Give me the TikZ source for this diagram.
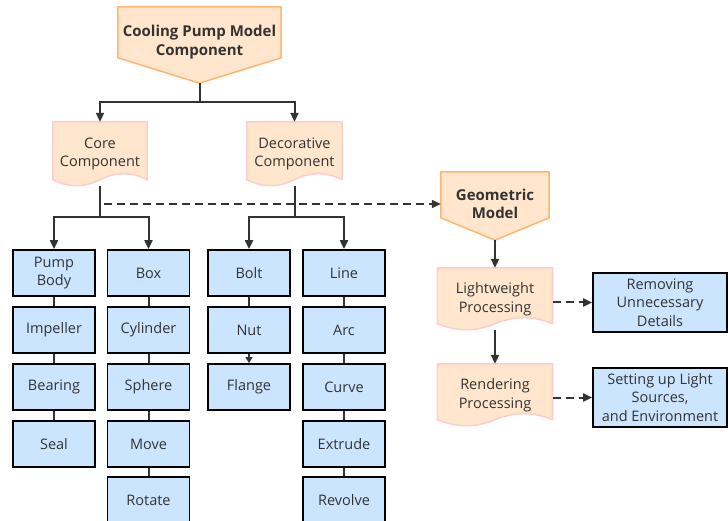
\documentclass[tikz,border=0pt]{standalone}
\usepackage{fontspec}
\setmainfont{Open Sans}
\usetikzlibrary{arrows.meta,calc}
\pgfdeclarelayer{background}
\pgfdeclarelayer{paper}
\pgfsetlayers{paper,background,main}
\definecolor{peach}{HTML}{FFE6CC}
\definecolor{orangeline}{HTML}{FFB570}
\definecolor{pinkline}{HTML}{FFCCCC}
\definecolor{skyfill}{HTML}{CCE5FF}
\definecolor{ink}{HTML}{333333}
\tikzset{
  every node/.style={font=\fontsize{14.5}{18.5}\selectfont, text=ink, align=center, inner sep=0pt},
  head/.style={font=\fontsize{15}{18.5}\selectfont\bfseries},
  docnode/.style={minimum height=64pt},
  part/.style={draw=black, line width=1.8pt, fill=skyfill, minimum width=82pt, minimum height=46pt},
  conn/.style={draw=ink, line width=2pt, -{Triangle[length=9pt,width=8pt]}},
  shortconn/.style={draw=ink, line width=2pt, -{Triangle[length=6pt,width=7pt]}},
  link/.style={draw=ink, line width=2pt},
  dasharrow/.style={conn, dash pattern=on 8pt off 5pt}
}
\newcommand{\pentagonbg}[3]{%
  \begin{pgfonlayer}{background}
    \draw[fill=peach, draw=orangeline, line width=1.5pt, line join=round]
      (#1.north west) -- (#1.north east) -- ([yshift=-#2pt]#1.north east)
      -- ([yshift=-#3pt]#1.south) -- ([yshift=-#2pt]#1.north west) -- cycle;
  \end{pgfonlayer}}
\newcommand{\docbg}[1]{%
  \begin{pgfonlayer}{background}
    \draw[fill=peach, draw=pinkline, line width=1.5pt, line join=round]
      (#1.north west) -- (#1.north east) -- ([yshift=6.5pt]#1.south east)
      .. controls ($(#1.south east)!0.1667!(#1.south west)+(0,14.5pt)$)
      and ($(#1.south east)!0.3333!(#1.south west)+(0,14.5pt)$) .. ([yshift=6.5pt]#1.south)
      .. controls ($(#1.south east)!0.6667!(#1.south west)+(0,-1.5pt)$)
      and ($(#1.south east)!0.8333!(#1.south west)+(0,-1.5pt)$) .. ([yshift=6.5pt]#1.south west)
      -- cycle;
  \end{pgfonlayer}}

\begin{document}
\begin{tikzpicture}[x=1pt,y=-1pt]
  \begin{pgfonlayer}{paper}
    \fill[white] (0,0) rectangle (728,521);
  \end{pgfonlayer}
  \useasboundingbox (0,0) rectangle (728,521);

  \node[head, minimum width=163pt, minimum height=70pt] (top) at (199.5,42) {Cooling Pump Model\\Component};
  \pentagonbg{top}{51}{6}
  \node[docnode, minimum width=94pt] (core) at (100,154) {Core\\Component};
  \docbg{core}
  \node[docnode, minimum width=95pt] (deco) at (294.5,154) {Decorative\\Component};
  \docbg{deco}
  \node[head, minimum width=108pt, minimum height=64pt] (geo) at (495,204) {Geometric\\Model};
  \pentagonbg{geo}{46}{4}
  \node[docnode, minimum width=115pt, minimum height=62pt] (light) at (495,299) {Lightweight\\Processing};
  \docbg{light}
  \node[docnode, minimum width=115pt, minimum height=62pt] (render) at (495,395) {Rendering\\Processing};
  \docbg{render}
  \node[part, minimum width=134pt, minimum height=59pt] (removing) at (660,302.5) {Removing\\Unnecessary\\Details};
  \node[part, minimum width=134pt, minimum height=59pt] (lights) at (660,397.5) {Setting up Light\\Sources,\\and Environment};

  \node[part] (pump) at (54,273) {Pump\\Body};
  \node[part] (impeller) at (54,330) {Impeller};
  \node[part] (bearing) at (54,387) {Bearing};
  \node[part] (seal) at (54,444) {Seal};
  \node[part] (box) at (148.5,273) {Box};
  \node[part] (cylinder) at (148.5,330) {Cylinder};
  \node[part] (sphere) at (148.5,387) {Sphere};
  \node[part] (move) at (148.5,444) {Move};
  \node[part] (rotate) at (148.5,500) {Rotate};
  \node[part] (bolt) at (249,273) {Bolt};
  \node[part] (nut) at (249,330) {Nut};
  \node[part] (flange) at (249,387) {Flange};
  \node[part] (line) at (344,273) {Line};
  \node[part] (arc) at (344,330) {Arc};
  \node[part] (curve) at (344,387) {Curve};
  \node[part] (extrude) at (344,444) {Extrude};
  \node[part] (revolve) at (344,500) {Revolve};

  \coordinate (topsplit) at (199.5,102);
  \coordinate (coresplit) at ([yshift=-31pt]core.south);
  \coordinate (decosplit) at ([yshift=-31pt]deco.south);

  \draw[link] ([yshift=-6pt]top.south) -- (topsplit);
  \draw[conn] (topsplit) -| (core);
  \draw[conn] (topsplit) -| (deco);
  \draw[link] (core.south) -- (coresplit);
  \draw[conn] (coresplit) -| (pump);
  \draw[conn] (coresplit) -| (box);
  \draw[link] (deco.south) -- (decosplit);
  \draw[conn] (decosplit) -| (bolt);
  \draw[conn] (decosplit) -| (line);
  \draw[dasharrow] ([xshift=4pt]coresplit |- geo) -- (geo);
  \draw[conn] ([yshift=-4pt]geo.south) -- (light);
  \draw[conn] (light) -- (render);
  \draw[dasharrow] (light.east |- removing) -- (removing);
  \draw[dasharrow] (render.east |- lights) -- (lights);

  \foreach \a/\b in {pump/impeller, impeller/bearing, bearing/seal,
    box/cylinder, cylinder/sphere, sphere/move, move/rotate,
    bolt/nut, line/arc, arc/curve, curve/extrude, extrude/revolve}
    \draw[link] (\a) -- (\b);
  \draw[shortconn] (nut) -- (flange);
\end{tikzpicture}
\end{document}
